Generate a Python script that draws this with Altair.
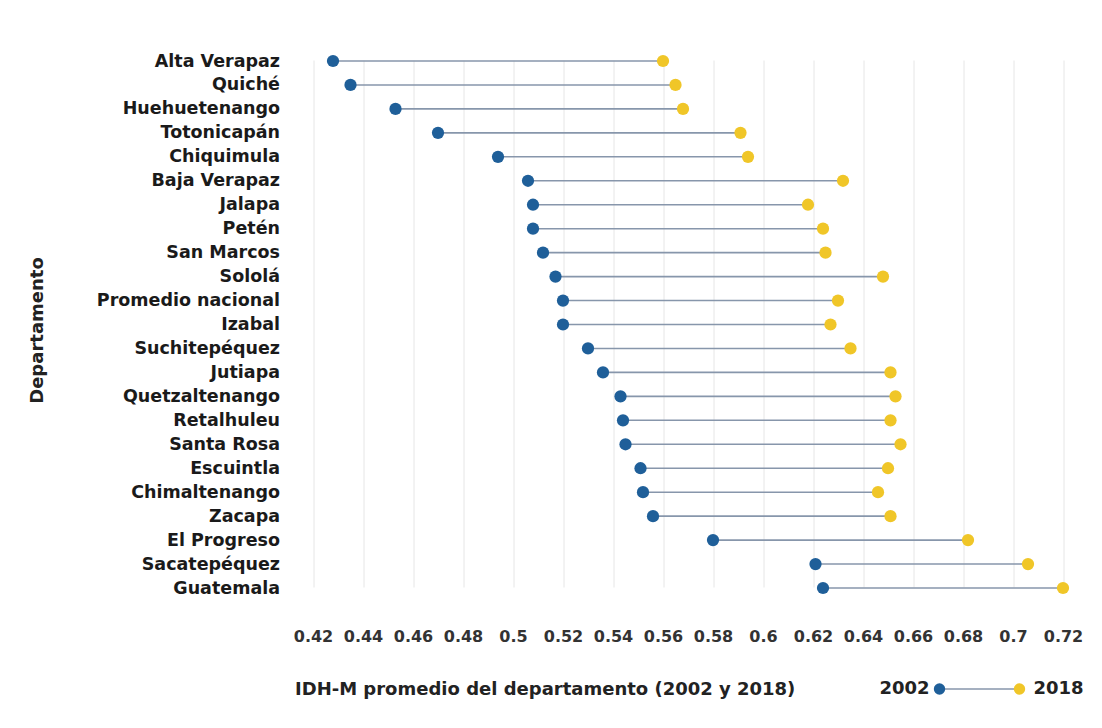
import altair as alt
import pandas as pd

departamentos = ["Alta Verapaz", "Quiché", "Huehuetenango", "Totonicapán", "Chiquimula",
                 "Baja Verapaz", "Jalapa", "Petén", "San Marcos", "Sololá",
                 "Promedio nacional", "Izabal", "Suchitepéquez", "Jutiapa", "Quetzaltenango",
                 "Retalhuleu", "Santa Rosa", "Escuintla", "Chimaltenango", "Zacapa",
                 "El Progreso", "Sacatepéquez", "Guatemala"]
idh_2002 = [0.428, 0.435, 0.453, 0.470, 0.494, 0.506, 0.508, 0.508, 0.512, 0.517,
            0.520, 0.520, 0.530, 0.536, 0.543, 0.544, 0.545, 0.551, 0.552, 0.556,
            0.580, 0.621, 0.624]
idh_2018 = [0.560, 0.565, 0.568, 0.591, 0.594, 0.632, 0.618, 0.624, 0.625, 0.648,
            0.630, 0.627, 0.635, 0.651, 0.653, 0.651, 0.655, 0.650, 0.646, 0.651,
            0.682, 0.706, 0.720]
x_ticks = [0.42, 0.44, 0.46, 0.48, 0.50, 0.52, 0.54, 0.56, 0.58, 0.60,
           0.62, 0.64, 0.66, 0.68, 0.70, 0.72]
years = ["2002", "2018"]

BLUE = "#1f5f99"
YELLOW = "#f0c628"
LINE = "#8796ab"
FONT = "DejaVu Sans"

wide = pd.DataFrame({"dep": departamentos, "v2002": idh_2002, "v2018": idh_2018})
long = pd.DataFrame({
    "dep": departamentos * 2,
    "valor": idh_2002 + idh_2018,
    "anio": [years[0]] * len(departamentos) + [years[1]] * len(departamentos),
})

W, H = 775, 592

xscale = alt.Scale(domain=[0.415, 0.725], nice=False, zero=False)
yscale = alt.Scale(type="point", range=[33, 560], padding=0)

x_axis = alt.Axis(values=x_ticks, format=".2~f", grid=True, gridColor="#e6e6e6",
                  gridWidth=1, domain=False, ticks=False, labelFont=FONT,
                  labelFontSize=16, labelFontWeight="bold", labelColor="#333333",
                  labelPadding=8,
                  title="IDH-M promedio del departamento (2002 y 2018)",
                  titleFont=FONT, titleFontSize=18, titleFontWeight="bold",
                  titleColor="#222222", titleAnchor="start", titleAlign="left",
                  titleX=-6, titleY=69, titleBaseline="middle")
y_axis = alt.Axis(domain=False, ticks=False, grid=False, labelFont=FONT,
                  labelFontSize=17.5, labelFontWeight="bold", labelColor="#1a1a1a",
                  labelPadding=21, labelLimit=400, title="Departamento", titleFont=FONT,
                  titleFontSize=18, titleFontWeight="bold", titleColor="#222222",
                  titleX=-263, titleY=302, titleBaseline="middle", titleAngle=-90)

rules = alt.Chart(wide).mark_rule(color=LINE, strokeWidth=1.6).encode(
    x=alt.X("v2002:Q", scale=xscale, axis=x_axis),
    x2="v2018:Q",
    y=alt.Y("dep:N", sort=departamentos, scale=yscale, axis=y_axis),
)

dots = alt.Chart(long).mark_circle(size=150, opacity=1).encode(
    x=alt.X("valor:Q", scale=xscale),
    y=alt.Y("dep:N", sort=departamentos, scale=yscale),
    color=alt.Color("anio:N", scale=alt.Scale(domain=years, range=[BLUE, YELLOW]),
                    legend=None),
)

one = pd.DataFrame({"k": [0]})
LY = 661
leg_line = alt.Chart(one).mark_rule(color=LINE, strokeWidth=1.6).encode(
    x=alt.value(639), x2=alt.value(719), y=alt.value(LY))
leg_dot1 = alt.Chart(one).mark_circle(size=130, opacity=1, color=BLUE).encode(
    x=alt.value(639), y=alt.value(LY))
leg_dot2 = alt.Chart(one).mark_circle(size=130, opacity=1, color=YELLOW).encode(
    x=alt.value(719), y=alt.value(LY))
leg_t1 = alt.Chart(pd.DataFrame({"t": [years[0]]})).mark_text(
    font=FONT, fontSize=18, fontWeight="bold", color="#222222", align="right",
    baseline="middle").encode(x=alt.value(629), y=alt.value(LY), text="t:N")
leg_t2 = alt.Chart(pd.DataFrame({"t": [years[1]]})).mark_text(
    font=FONT, fontSize=18, fontWeight="bold", color="#222222", align="left",
    baseline="middle").encode(x=alt.value(733), y=alt.value(LY), text="t:N")

chart = alt.layer(rules, dots, leg_line, leg_dot1, leg_dot2, leg_t1, leg_t2).properties(
    width=W, height=H,
    autosize=alt.AutoSizeParams(type="none"),
    padding={"left": 292.5, "top": 20, "right": 10, "bottom": 90},
    background="white",
).configure_view(stroke=None)

chart.save("out.html", embed_options={"renderer": "svg", "actions": False})
